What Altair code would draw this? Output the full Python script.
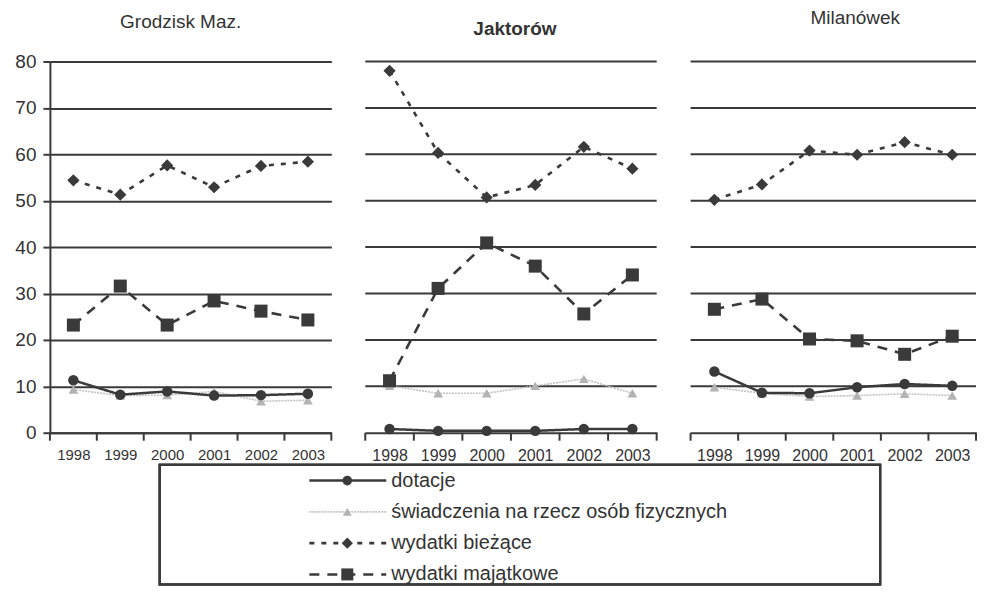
import altair as alt
import pandas as pd

years = [1998, 1999, 2000, 2001, 2002, 2003]
gminy = ["Grodzisk Maz.", "Jaktorów", "Milanówek"]
series = ["dotacje", "świadczenia na rzecz osób fizycznych", "wydatki bieżące", "wydatki majątkowe"]
y_ticks = [0, 10, 20, 30, 40, 50, 60, 70, 80]

# Grodzisk Maz.
dotacje_g = [11.3, 8.2, 8.9, 8.0, 8.1, 8.4]
swiad_g = [9.3, 8.0, 8.1, 8.9, 6.8, 7.0]
biez_g = [54.4, 51.3, 57.6, 52.9, 57.5, 58.4]
maj_g = [23.2, 31.6, 23.2, 28.4, 26.2, 24.3]
# Jaktorów
dotacje_j = [0.8, 0.4, 0.4, 0.4, 0.8, 0.8]
swiad_j = [10.1, 8.5, 8.5, 10.1, 11.6, 8.5]
biez_j = [78.0, 60.3, 50.7, 53.4, 61.6, 56.9]
maj_j = [11.2, 31.1, 40.9, 35.9, 25.6, 34.0]
# Milanówek
dotacje_m = [13.2, 8.6, 8.5, 9.8, 10.5, 10.1]
swiad_m = [9.8, 8.5, 7.8, 8.0, 8.4, 8.0]
biez_m = [50.2, 53.5, 60.8, 59.9, 62.6, 59.9]
maj_m = [26.6, 28.8, 20.2, 19.8, 16.9, 20.8]

blocks = {
    gminy[0]: [dotacje_g, swiad_g, biez_g, maj_g],
    gminy[1]: [dotacje_j, swiad_j, biez_j, maj_j],
    gminy[2]: [dotacje_m, swiad_m, biez_m, maj_m],
}

rows = []
for g in gminy:
    for s, vals in zip(series, blocks[g]):
        for yr, v in zip(years, vals):
            rows.append({"gmina": g, "seria": s, "rok": yr, "wartosc": v})
df = pd.DataFrame(rows)
grid_df = pd.DataFrame({"wartosc": y_ticks[1:]})
# category boundaries (Excel-style ticks between years)
bounds_df = pd.DataFrame({"rok": [y - 0.5 for y in years] + [years[-1] + 0.5]})

DARK = "#3a3a3a"
TEXT = "#333333"
FONT = "Liberation Sans"

styles = {
    series[0]: dict(color=DARK, dash=[1, 0], width=2.5, shape="circle", size=110, pcolor=DARK),
    series[1]: dict(color="#c2c2c2", dash=[2, 1], width=1.6, shape="triangle-up", size=95, pcolor="#b3b3b3"),
    series[2]: dict(color=DARK, dash=[5, 7], width=2.6, shape="diamond", size=150, pcolor=DARK),
    series[3]: dict(color=DARK, dash=[10, 8], width=2.6, shape="square", size=170, pcolor=DARK),
}
draw_order = [series[1], series[0], series[2], series[3]]

PANEL_H = 372
TICK_LEN = 8


def panel(g, width, first, title, label_size):
    base = alt.Chart(df).transform_filter(alt.datum.gmina == g)
    xscale = alt.Scale(domain=[years[0] - 0.5, years[-1] + 0.5], nice=False, zero=False)
    xaxis = alt.Axis(
        values=years,
        format="d",
        labelFlush=False,
        labelOverlap=False,
        labelFontSize=label_size,
        labelPadding=15,
        ticks=False,
        grid=False,
        title=None,
    )
    xenc = alt.X("rok:Q", scale=xscale, axis=xaxis)
    if first:
        yaxis = alt.Axis(values=y_ticks, grid=True, title=None, labelFontSize=19,
                         tickSize=7, labelPadding=7, minExtent=42, maxExtent=42)
    else:
        yaxis = None
    yscale = alt.Scale(domain=[0, 80], nice=False)
    yenc = alt.Y("wartosc:Q", scale=yscale, axis=yaxis)
    layers = []
    if not first:
        layers.append(
            alt.Chart(grid_df).mark_rule(color=DARK, strokeWidth=2).encode(
                y=alt.Y("wartosc:Q", scale=yscale, axis=None))
        )
    layers.append(
        alt.Chart(bounds_df).mark_rule(color=DARK, strokeWidth=2).encode(
            x=xenc, y=alt.value(PANEL_H), y2=alt.value(PANEL_H + TICK_LEN))
    )
    for s in draw_order:
        st = styles[s]
        b = base.transform_filter(alt.datum.seria == s)
        layers.append(
            b.mark_line(color=st["color"], strokeDash=st["dash"], strokeWidth=st["width"]).encode(x=xenc, y=yenc)
        )
    for s in draw_order:
        st = styles[s]
        b = base.transform_filter(alt.datum.seria == s)
        layers.append(
            b.mark_point(shape=st["shape"], filled=True, size=st["size"], color=st["pcolor"], opacity=1).encode(x=xenc, y=yenc)
        )
    return alt.layer(*layers).properties(width=width, height=PANEL_H, title=title)


p1 = panel(gminy[0], 282, True, alt.TitleParams(gminy[0], anchor="middle", dx=-10, dy=13, offset=34), 15)
p2 = panel(gminy[1], 292, False, alt.TitleParams(gminy[1], anchor="middle", dx=4, dy=12, fontWeight="bold", offset=34), 16)
p3 = panel(gminy[2], 286, False, alt.TitleParams(gminy[2], anchor="middle", dx=22, dy=1, offset=34), 16)

top = alt.hconcat(p1, p2, p3, spacing=32)

# legend built from the series list (view origin aligns with the first panel's plot area)
LEG_LEFT = 110
LEG_W = 722
LEG_H = 120
leg_df = pd.DataFrame({"seria": series})
ly = alt.Y("seria:N", scale=alt.Scale(type="point", domain=series, range=[16, 110], padding=0), axis=None)
leg_layers = [
    alt.Chart(leg_df).mark_rect(fill=None, stroke=DARK, strokeWidth=2).encode(
        x=alt.value(LEG_LEFT), x2=alt.value(LEG_LEFT + LEG_W), y=alt.value(0), y2=alt.value(LEG_H))
]
for s in series:
    st = styles[s]
    b = alt.Chart(leg_df).transform_filter(alt.datum.seria == s)
    leg_layers.append(
        b.mark_rule(color=st["color"], strokeDash=st["dash"], strokeWidth=st["width"]).encode(
            x=alt.value(LEG_LEFT + 150), x2=alt.value(LEG_LEFT + 227), y=ly)
    )
    leg_layers.append(
        b.mark_point(shape=st["shape"], filled=True, size=st["size"] * 0.85, color=st["pcolor"], opacity=1).encode(
            x=alt.value(LEG_LEFT + 188), y=ly)
    )
leg_layers.append(
    alt.Chart(leg_df).mark_text(align="left", baseline="middle", fontSize=20, font=FONT, color=TEXT).encode(
        x=alt.value(LEG_LEFT + 232), y=ly, text="seria:N")
)
legend = alt.layer(*leg_layers).properties(width=LEG_LEFT + LEG_W, height=LEG_H)

chart = alt.vconcat(top, legend, spacing=0).properties(
    padding={"left": 0, "top": 0, "right": 0, "bottom": 0},
    background="white",
).configure_view(stroke=None).configure_axis(
    labelFont=FONT, labelColor=TEXT, domainColor=DARK, tickColor=DARK, gridColor=DARK,
    gridWidth=2, domainWidth=2, tickWidth=2,
).configure_title(font=FONT, fontSize=19, color=TEXT, fontWeight="normal")

chart.save("out.html", embed_options={"renderer": "svg", "actions": False})
